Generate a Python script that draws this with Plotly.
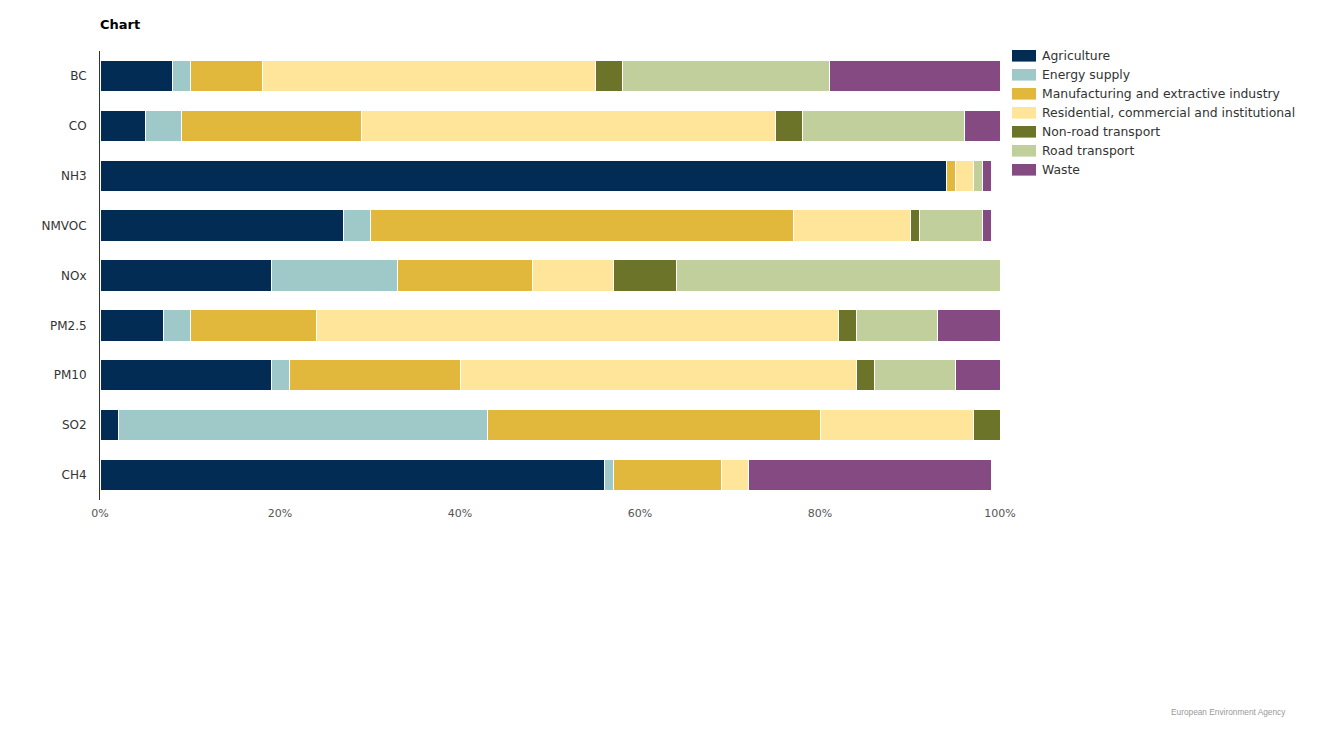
import plotly.graph_objects as go

pollutants = ["BC", "CO", "NH3", "NMVOC", "NOx", "PM2.5", "PM10", "SO2", "CH4"]

sectors = [
    "Agriculture",
    "Energy supply",
    "Manufacturing and extractive industry",
    "Residential, commercial and institutional",
    "Non-road transport",
    "Road transport",
    "Waste",
]

agriculture = [8, 5, 94, 27, 19, 7, 19, 2, 56]
energy_supply = [2, 4, 0, 3, 14, 3, 2, 41, 1]
manufacturing = [8, 20, 1, 47, 15, 14, 19, 37, 12]
residential = [37, 46, 2, 13, 9, 58, 44, 17, 3]
non_road = [3, 3, 0, 1, 7, 2, 2, 3, 0]
road = [23, 18, 1, 7, 36, 9, 9, 0, 0]
waste = [19, 4, 1, 1, 0, 7, 5, 0, 27]

values = [agriculture, energy_supply, manufacturing, residential, non_road, road, waste]
colors = ["#022c54", "#9fc8c8", "#e2b83c", "#fee599", "#6b7428", "#c1cf9c", "#844a81"]

W, H = 1330, 750
OFF = 8  # page renders with an 8px body offset
L, T = 92, 43
PW, PH = 900, 449


def px(sx):
    return (sx - OFF - L) / PW


def py(sy):
    return 1 - (sy - OFF - T) / PH


fig = go.Figure()
for name, vals, col in zip(sectors, values, colors):
    fig.add_trace(go.Bar(
        name=name,
        y=pollutants,
        x=vals,
        orientation="h",
        marker=dict(color=col, line=dict(color="white", width=1)),
        hovertemplate="%{y}: %{x}%<extra>" + name + "</extra>",
        showlegend=False,
    ))

fig.update_layout(
    barmode="stack",
    bargap=0.37,
    width=W,
    height=H,
    margin=dict(l=L, r=W - L - PW, t=T, b=H - T - PH),
    paper_bgcolor="white",
    plot_bgcolor="white",
    font=dict(family="DejaVu Sans", size=12, color="#333333"),
    title=dict(text="<b>Chart</b>", x=L / W, xanchor="left", y=1 - 16 / H, yanchor="middle",
               font=dict(family="DejaVu Sans", size=13, color="#000000")),
    xaxis=dict(
        range=[0, 100],
        tickvals=[0, 20, 40, 60, 80, 100],
        ticktext=["0%", "20%", "40%", "60%", "80%", "100%"],
        showgrid=False,
        zeroline=False,
        showline=False,
        ticks="",
        ticklabelstandoff=5,
        tickfont=dict(size=11, color="#555555"),
        fixedrange=True,
    ),
    yaxis=dict(
        autorange="reversed",
        showgrid=False,
        showline=True,
        linecolor="#333333",
        linewidth=1,
        ticks="",
        ticklabelstandoff=10,
        tickfont=dict(size=12, color="#333333"),
        fixedrange=True,
    ),
    showlegend=False,
)

# legend: wide swatches + labels
for i, (name, col) in enumerate(zip(sectors, colors)):
    cy = 55.8 + 19 * i
    fig.add_shape(
        type="rect", xref="paper", yref="paper",
        x0=px(1012), x1=px(1036), y0=py(cy - 5.8), y1=py(cy + 5.8),
        fillcolor=col, line=dict(width=0),
    )
    fig.add_annotation(
        text=name, xref="paper", yref="paper",
        x=px(1040), y=py(cy), xanchor="left", yanchor="middle",
        showarrow=False, font=dict(size=12.4, color="#333333"),
    )

fig.add_annotation(
    text="European Environment Agency",
    xref="paper", yref="paper",
    x=px(1288), y=py(712),
    xanchor="right", yanchor="middle",
    showarrow=False,
    font=dict(family="Liberation Sans", size=8.3, color="#999999"),
)

fig.write_html("out.html")
